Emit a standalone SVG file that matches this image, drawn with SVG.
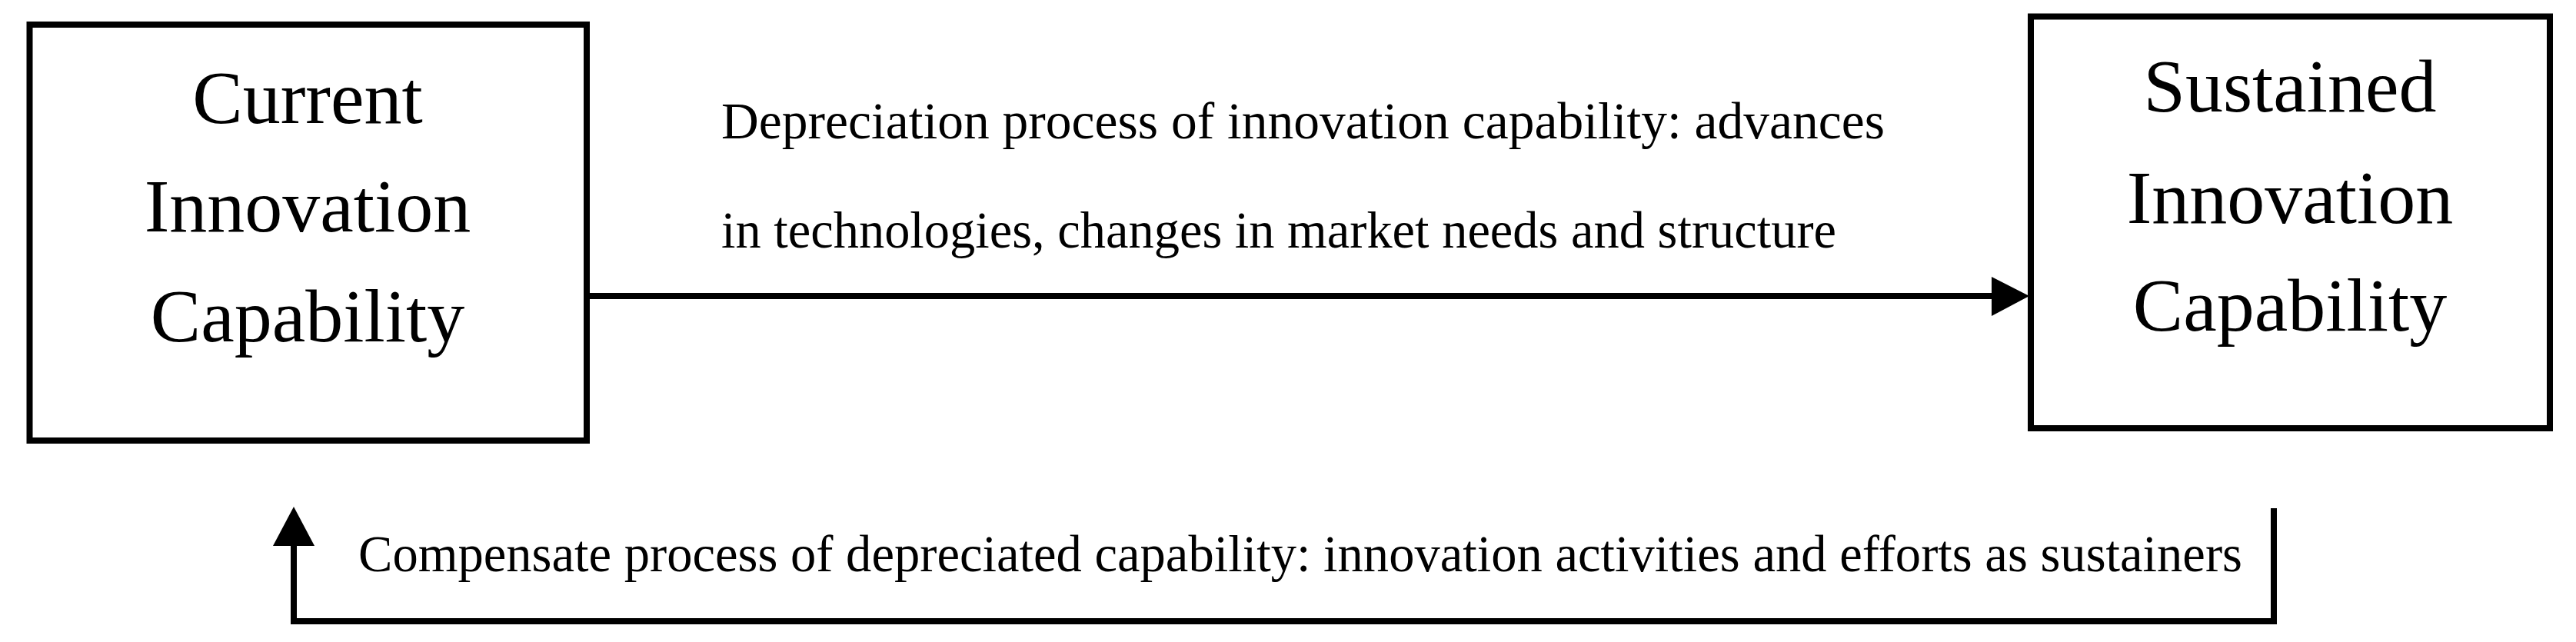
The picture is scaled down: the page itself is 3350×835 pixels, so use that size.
<svg xmlns="http://www.w3.org/2000/svg" width="3350" height="835" viewBox="0 0 3350 835">
  <style>
    .box { fill: #ffffff; stroke: #000000; stroke-width: 8; }
    .node-text { font-family: "Liberation Serif", "Times New Roman", serif; font-size: 98px; fill: #000000; text-anchor: middle; }
    .edge-text { font-family: "Liberation Serif", "Times New Roman", serif; font-size: 67.5px; fill: #000000; }
    .conn { fill: none; stroke: #000000; stroke-width: 8; stroke-linejoin: miter; stroke-linecap: butt; }
    .head { fill: #000000; stroke: none; }
  </style>
  <rect x="0" y="0" width="3350" height="835" fill="#ffffff"/>
  <g id="node-current">
    <rect class="box" x="38.5" y="32" width="724.5" height="541"/>
    <text class="node-text" x="400" y="160">Current</text>
    <text class="node-text" x="400" y="301">Innovation</text>
    <text class="node-text" x="400" y="444">Capability</text>
  </g>
  <g id="node-sustained">
    <rect class="box" x="2641" y="21.5" width="675" height="535.5"/>
    <text class="node-text" x="2978" y="145">Sustained</text>
    <text class="node-text" x="2978" y="290">Innovation</text>
    <text class="node-text" x="2978" y="430">Capability</text>
  </g>
  <g id="connectors">
    <g id="edge-depreciation">
      <line class="conn" x1="763" y1="385" x2="2595" y2="385"/>
      <polygon class="head" points="2590,360 2639,385 2590,411"/>
      <text class="edge-text" x="938" y="180" textLength="1513" lengthAdjust="spacingAndGlyphs">Depreciation process of innovation capability: advances</text>
      <text class="edge-text" x="938" y="322" textLength="1450" lengthAdjust="spacingAndGlyphs">in technologies, changes in market needs and structure</text>
    </g>
    <g id="edge-compensate">
      <polyline class="conn" points="2957,661 2957,808 382,808 382,705"/>
      <polygon class="head" points="355,710 382,659 409,710"/>
      <text class="edge-text" x="466" y="743" textLength="2450" lengthAdjust="spacingAndGlyphs">Compensate process of depreciated capability: innovation activities and efforts as sustainers</text>
    </g>
  </g>
</svg>
